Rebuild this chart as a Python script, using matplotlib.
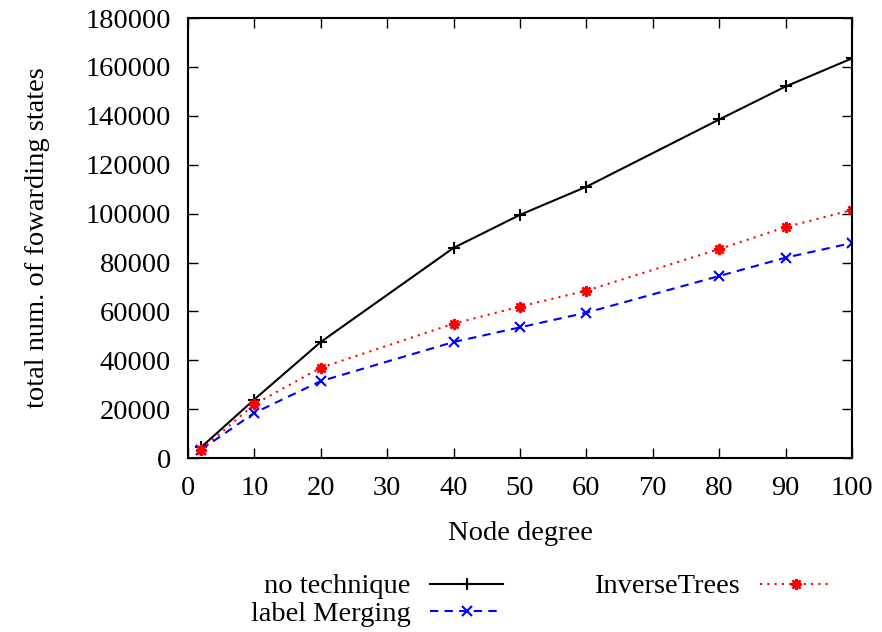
import numpy as np
import matplotlib
matplotlib.use('Agg')
import matplotlib.pyplot as plt

plt.rcParams['font.family'] = ['Liberation Serif', 'DejaVu Serif']

# node degree vs. total number of forwarding states
degree = [2, 10, 20, 40, 50, 60, 80, 90, 100]
no_technique = [4500, 24000, 47500, 86000, 99500, 111000, 138500, 152000, 163500]
label_merging = [3500, 18500, 31500, 47500, 53500, 59500, 74500, 82000, 88000]
inverse_trees = [3500, 22000, 37000, 55000, 62000, 68500, 85500, 94500, 101500]

fs = 20.5

fig = plt.figure(figsize=(8.82, 6.32), dpi=100)
ax = fig.add_axes([0.213, 0.275, 0.753, 0.6965])

l1, = ax.plot(degree, no_technique, color='black', lw=1.5, marker='+',
              ms=9, mew=1.5, label='no technique')
l2, = ax.plot(degree, label_merging, color='blue', lw=1.5, ls=(0, (4, 3)),
              marker='x', ms=7, mew=1.5, label='label Merging')
l3, = ax.plot(degree, inverse_trees, color='red', lw=1.5, ls=(0, (1, 2.5)),
              marker=(8, 2, 0), ms=8, mew=1.8, label='InverseTrees')

ax.set_xlim(0, 100)
ax.set_ylim(0, 180000)
ax.set_xticks(np.arange(0, 101, 10))
ax.set_yticks(np.arange(0, 180001, 20000))
ax.tick_params(direction='in', length=7, width=1, top=True, right=True,
               labelsize=fs)
ax.tick_params(axis='x', pad=13)
ax.tick_params(axis='y', pad=12)
for s in ax.spines.values():
    s.set_linewidth(1.5)

ax.set_xlabel('Node degree', fontsize=fs, labelpad=14)
ax.set_ylabel('total num. of fowarding states', fontsize=fs, labelpad=26)

fig.legend(handles=[l1, l2, l3], ncol=2, loc='upper left',
           bbox_to_anchor=(0.268, 0.115), markerfirst=False, frameon=False,
           fontsize=fs, handlelength=2.56, handletextpad=0.7,
           columnspacing=3.2, labelspacing=0.05, borderpad=0)

fig.savefig('out.png', dpi=100)
